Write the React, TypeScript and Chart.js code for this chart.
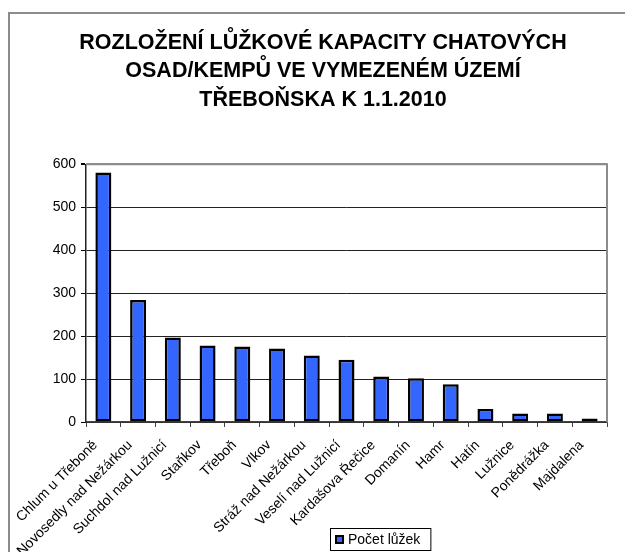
import React, { useEffect, useRef } from "react";
import { Chart, registerables } from "chart.js";

Chart.register(...registerables);

const titleLines = [
  "ROZLOŽENÍ LŮŽKOVÉ KAPACITY CHATOVÝCH",
  "OSAD/KEMPŮ VE VYMEZENÉM ÚZEMÍ",
  "TŘEBOŇSKA K 1.1.2010",
];

const categories = [
  "Chlum u Třeboně",
  "Novosedly nad Nežárkou",
  "Suchdol nad Lužnicí",
  "Staňkov",
  "Třeboň",
  "Vlkov",
  "Stráž nad Nežárkou",
  "Veselí nad Lužnicí",
  "Kardašova Řečice",
  "Domanín",
  "Hamr",
  "Hatín",
  "Lužnice",
  "Ponědrážka",
  "Majdalena",
];

const seriesLabel = "Počet lůžek";
const seriesValues = [581, 284, 197, 178, 176, 171, 155, 145, 106, 102, 88, 30, 20, 20, 8];

const yMin = 0;
const yMax = 600;
const yStep = 100;

const FONT = "'Liberation Sans', Arial, sans-serif";
const BAR_BLUE = "#3366ff";

const framePlugin = {
  id: "plotFrame",
  beforeDatasetsDraw(chart: any) {
    const { ctx, chartArea } = chart;
    ctx.save();
    ctx.strokeStyle = "#8c8c8c";
    ctx.lineWidth = 2;
    ctx.beginPath();
    ctx.moveTo(chartArea.left, chartArea.top);
    ctx.lineTo(chartArea.right, chartArea.top);
    ctx.lineTo(chartArea.right, chartArea.bottom);
    ctx.stroke();
    ctx.restore();
  },
};

const boxLegendPlugin = {
  id: "boxLegend",
  afterDraw(chart: any) {
    const { ctx } = chart;
    const label = chart.data.datasets[0].label as string;
    ctx.save();
    ctx.font = `14px ${FONT}`;
    const tw = ctx.measureText(label).width;
    const left = 320;
    const top = 514;
    const h = 22;
    const w = tw + 28;
    ctx.fillStyle = "#ffffff";
    ctx.fillRect(left, top, w, h);
    ctx.strokeStyle = "#000000";
    ctx.lineWidth = 1;
    ctx.strokeRect(left + 0.5, top + 0.5, w, h);
    ctx.fillStyle = "#000000";
    ctx.fillRect(left + 5, top + 7, 9, 9);
    ctx.fillStyle = BAR_BLUE;
    ctx.fillRect(left + 7, top + 9, 5, 5);
    ctx.fillStyle = "#000000";
    ctx.textBaseline = "middle";
    ctx.textAlign = "left";
    ctx.fillText(label, left + 18, top + h / 2 + 1);
    ctx.restore();
  },
};

export default function App() {
  const canvasRef = useRef<HTMLCanvasElement | null>(null);

  useEffect(() => {
    const canvas = canvasRef.current;
    if (!canvas) return;
    const chart = new Chart(canvas, {
      type: "bar",
      data: {
        labels: categories,
        datasets: [
          {
            label: seriesLabel,
            data: seriesValues,
            backgroundColor: BAR_BLUE,
            borderColor: "#000000",
            borderWidth: 2.5,
            borderSkipped: false,
            barPercentage: 0.46,
            categoryPercentage: 1,
          },
        ],
      },
      options: {
        animation: false,
        responsive: false,
        devicePixelRatio: 1,
        layout: { padding: { top: 0, left: 29, right: 29, bottom: 2 } },
        plugins: {
          legend: { display: false },
          tooltip: { enabled: false },
          title: {
            display: true,
            text: titleLines,
            color: "#000000",
            font: { family: FONT, size: 21.5, weight: "bold", lineHeight: 1.33 },
            padding: { top: 14.5, bottom: 50 },
          },
        },
        scales: {
          x: {
            offset: true,
            grid: {
              offset: true,
              drawOnChartArea: false,
              drawTicks: true,
              tickLength: 5,
              tickColor: "#444444",
            },
            border: { display: true, color: "#444444", width: 1.5 },
            ticks: {
              autoSkip: false,
              minRotation: 45,
              maxRotation: 45,
              color: "#000000",
              font: { family: FONT, size: 14 },
              padding: 10,
              labelOffset: -8,
            },
            afterFit: (scale: any) => {
              scale.height = 130;
            },
          },
          y: {
            min: yMin,
            max: yMax,
            grid: {
              color: (c: any) => (c.tick && c.tick.value === yMax ? "#8c8c8c" : "#222222"),
              lineWidth: (c: any) => (c.tick && c.tick.value === yMax ? 2 : 1),
              tickLength: 5,
              tickColor: "#000000",
            },
            border: { display: true, color: "#222222", width: 1.5 },
            ticks: {
              stepSize: yStep,
              color: "#000000",
              font: { family: FONT, size: 14 },
              padding: 5,
            },
            afterFit: (scale: any) => {
              scale.width = 47;
            },
          },
        },
      },
      plugins: [framePlugin, boxLegendPlugin],
    } as any);
    return () => chart.destroy();
  }, []);

  return (
    <div
      style={{
        position: "fixed",
        left: 8,
        top: 12,
        width: 617,
        height: 540,
        overflow: "hidden",
        background: "#ffffff",
      }}
    >
      <div
        style={{
          width: 640,
          height: 600,
          border: "2px solid #8c8c8c",
          boxSizing: "border-box",
        }}
      >
        <canvas
          ref={canvasRef}
          width={626}
          height={540}
          style={{ display: "block", width: 626, height: 540 }}
        />
      </div>
    </div>
  );
}
